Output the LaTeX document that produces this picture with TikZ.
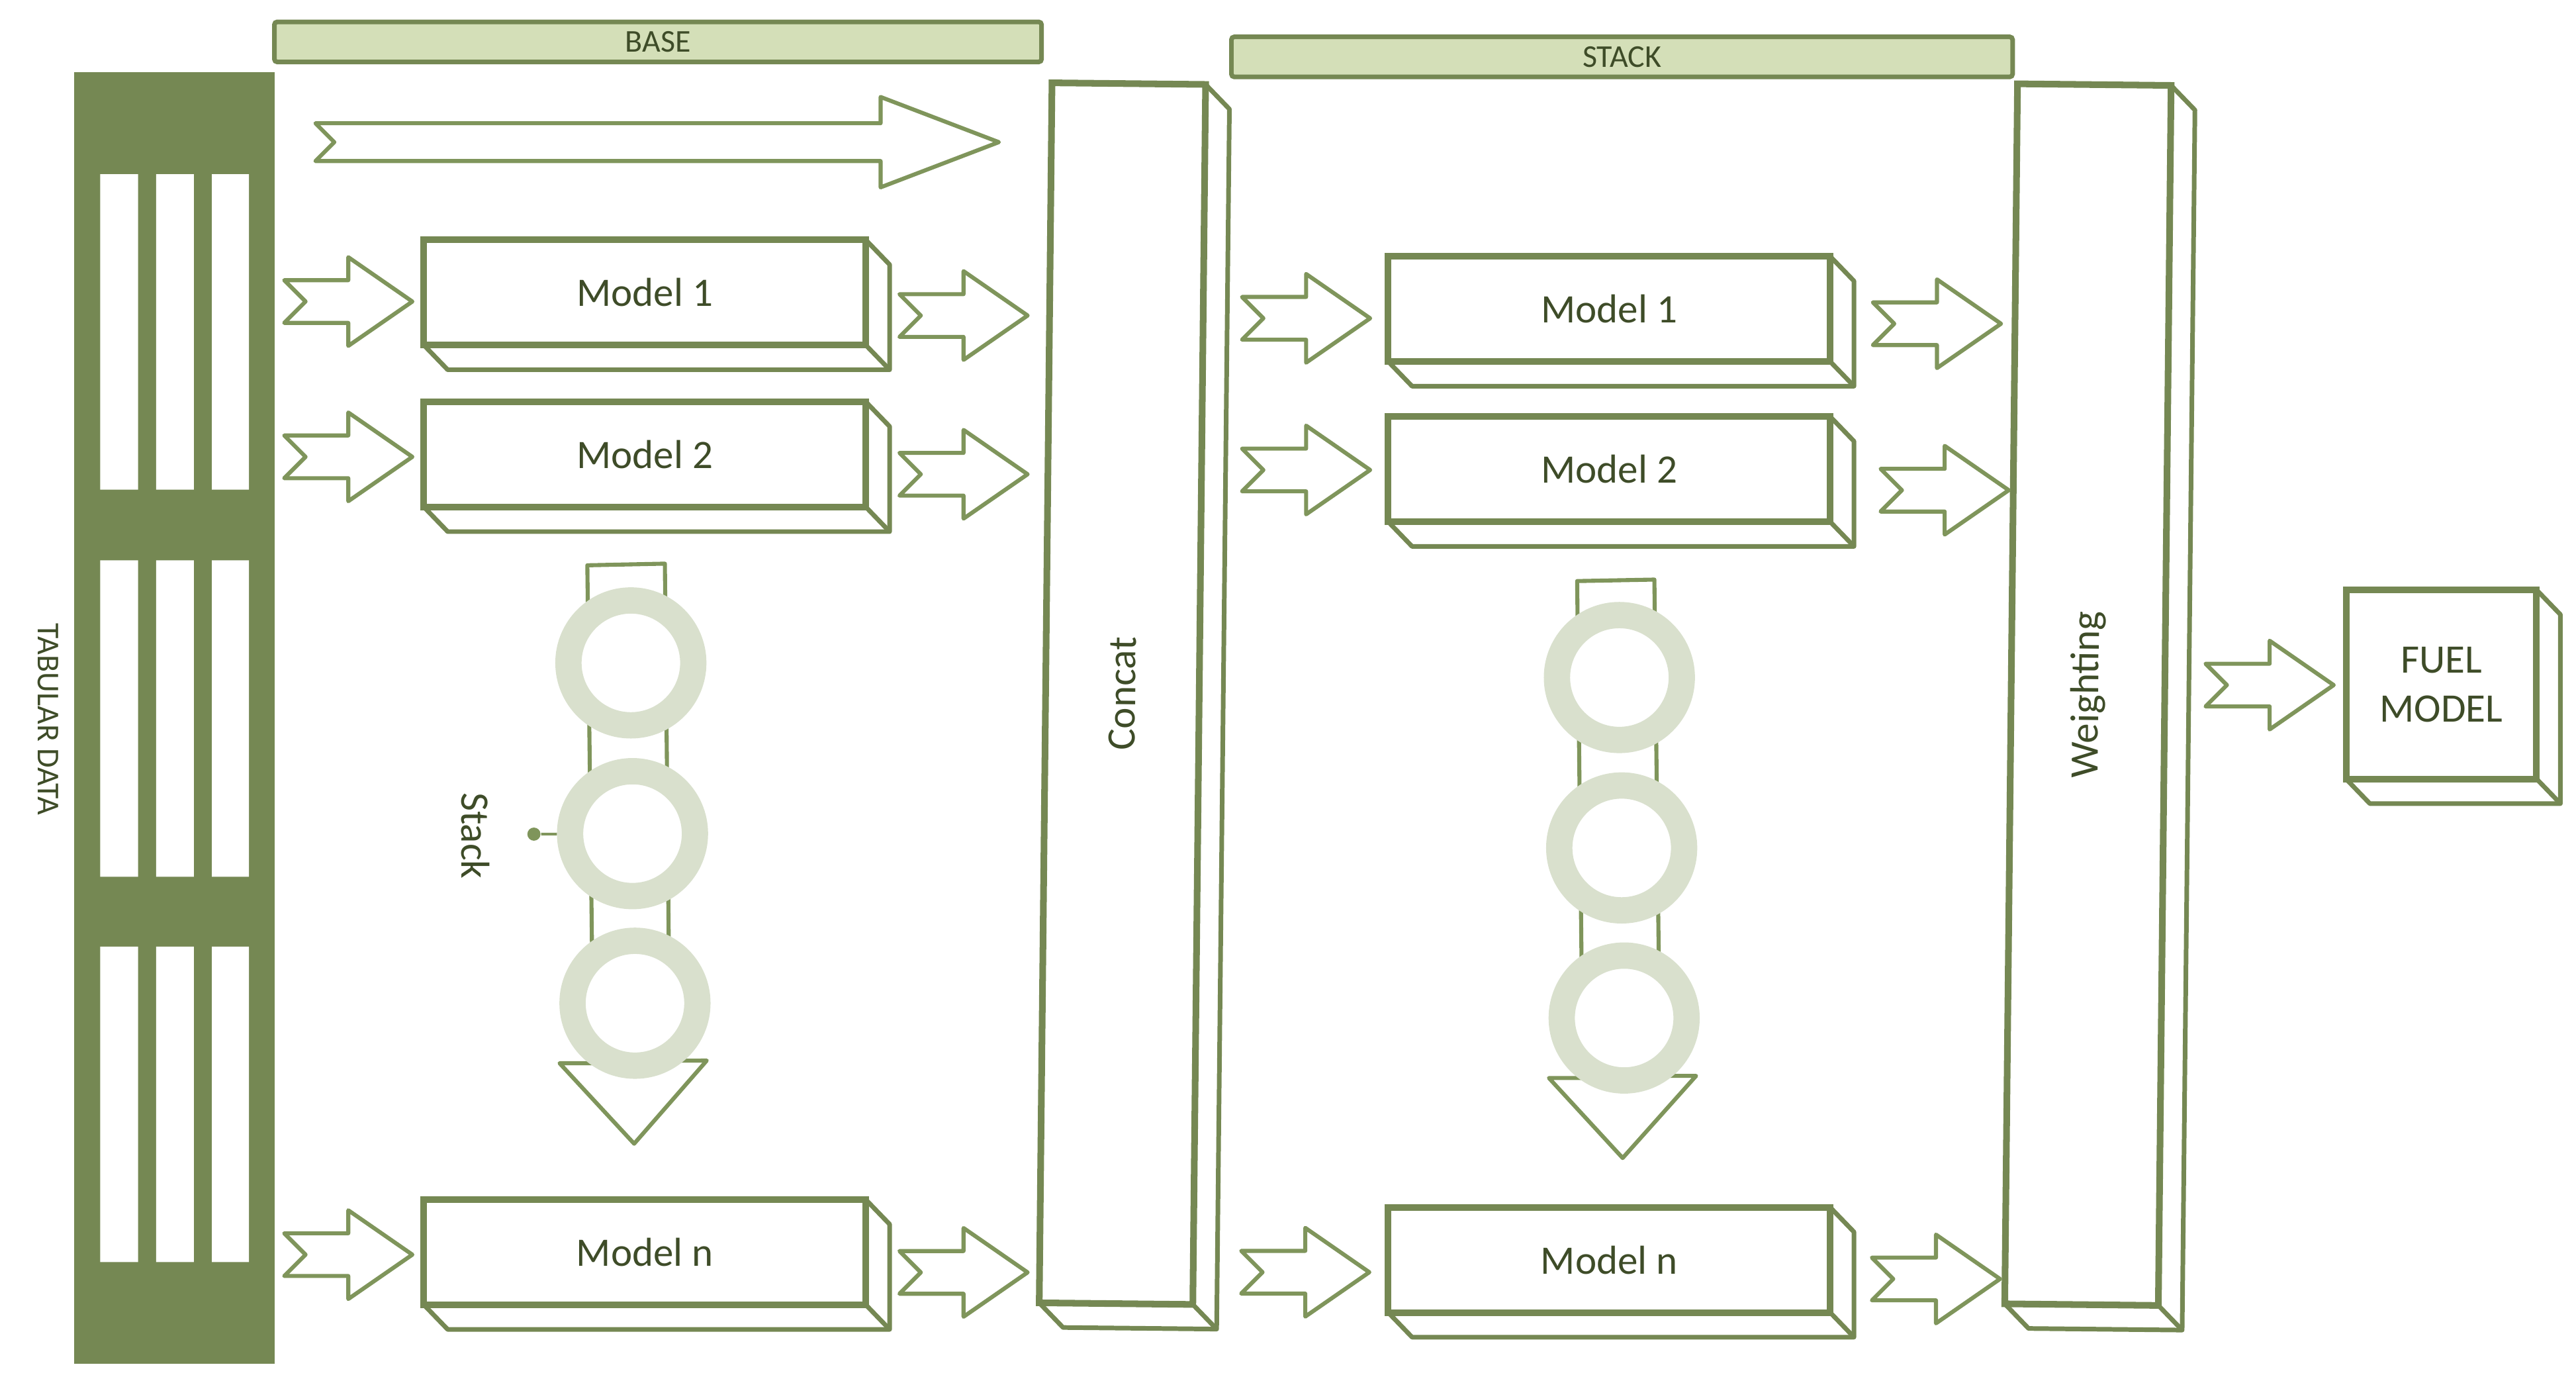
\documentclass[tikz,border=0pt]{standalone}
\usepackage{fontspec}
\setmainfont{Carlito}
\usepackage{tikz}
\usetikzlibrary{calc}

\definecolor{olive}{RGB}{117,136,83}
\definecolor{olivelight}{RGB}{127,149,91}
\definecolor{bannerfill}{RGB}{212,223,184}
\definecolor{ringfill}{RGB}{217,224,205}
\definecolor{textgreen}{RGB}{62,76,40}

\tikzstyle{banner} = [rectangle, rounded corners=1pt, minimum height=4.8mm, draw=olive, line width=1.6pt, fill=bannerfill, text=textgreen, font=\fontsize{11}{13}\selectfont]
\tikzstyle{model} = [rectangle, minimum width=53.8mm, minimum height=12.8mm, outer sep=0pt, draw=olive, line width=2.3pt, text=textgreen, font=\fontsize{14}{17}\selectfont]
\tikzstyle{column} = [rectangle, minimum width=18.7mm, minimum height=148.5mm, outer sep=0pt, draw=olive, line width=2.3pt, rotate=-0.6, text=textgreen, font=\fontsize{14}{17}\selectfont]
\tikzstyle{side} = [draw=olive, line width=1.6pt, line join=round]
\tikzstyle{arrowline} = [draw=olivelight, line width=1.4pt, line join=round]
\tikzstyle{ring} = [circle, minimum size=15.2mm, inner sep=0pt, draw=ringfill, line width=3.2mm, fill=white]
\tikzstyle{caption} = [text=textgreen, font=\fontsize{11}{13}\selectfont]

\tikzset{
  fatarrow/.pic={
    \draw[arrowline] (0,-13) -- (39,-13) -- (39,-27) -- (78,0) -- (39,27) -- (39,13) -- (0,13) -- (13,0) -- cycle;
  }
}

% back faces of a box
\newcommand{\boxdepth}[1]{%
  \draw[side] (#1.north east) -- ++(14.5,15) -- ([shift={(14.5,15)}]#1.south east) -- ([shift={(14.5,15)}]#1.south west) -- (#1.south west);
  \draw[side] (#1.south east) -- ++(14.5,15);
}

\begin{document}
\begin{tikzpicture}[x=0.2mm, y=-0.2mm]
    \useasboundingbox (0,0) rectangle (1568,839);

    % tabular data
    \node (data) [rectangle, fill=olive, minimum width=24.4mm, minimum height=157.2mm, inner sep=0pt] at (106,437) {};
    \fill[white] (61,106) rectangle (84,298) (95,106) rectangle (118,298) (129,106) rectangle (151.5,298)
                 (61,341) rectangle (84,533.5) (95,341) rectangle (118,533.5) (129,341) rectangle (151.5,533.5)
                 (61,576) rectangle (84,768) (95,576) rectangle (118,768) (129,576) rectangle (151.5,768);
    \node (datalabel) [caption, rotate=-90] at (29.4,437.7) {TABULAR DATA};

    \node (base) [banner, minimum width=93.4mm] at (400.5,25.5) {BASE};
    \node (stack) [banner, minimum width=95.1mm] at (987.3,34.6) {STACK};

    \node (bm1) [model] at (392.5,178) {Model 1};
    \node (bm2) [model] at (392.5,276.5) {Model 2};
    \node (bmn) [model] at (392.5,762) {Model n};
    \node (sm1) [model] at (979.5,188) {Model 1};
    \node (sm2) [model] at (979.5,285.5) {Model 2};
    \node (smn) [model] at (979.5,766.7) {Model n};
    \node (concat) [column] at (683.2,422.1) {\rotatebox{90}{Concat}};
    \node (weight) [column] at (1270.9,422.7) {\rotatebox{90}{Weighting}};
    \node (fuel) [model, minimum width=23.2mm, minimum height=23mm, align=center] at (1486,416.5) {FUEL\\MODEL};

    \boxdepth{bm1}
    \boxdepth{bm2}
    \boxdepth{bmn}
    \boxdepth{sm1}
    \boxdepth{sm2}
    \boxdepth{smn}
    \boxdepth{concat}
    \boxdepth{weight}
    \boxdepth{fuel}

    % long arrow over the base models
    \draw[arrowline] (192,75) -- (536,75) -- (536,59) -- (608,86.5) -- (536,114) -- (536,98) -- (192,98) -- (203.5,86.5) -- cycle;

    \pic at (173,183.5) {fatarrow};
    \pic at (173,278) {fatarrow};
    \pic at (173,763.5) {fatarrow};
    \pic at (547.5,192) {fatarrow};
    \pic at (547.5,288.6) {fatarrow};
    \pic at (547.5,774.3) {fatarrow};
    \pic at (756,193.7) {fatarrow};
    \pic at (756,286) {fatarrow};
    \pic at (755.5,774.2) {fatarrow};
    \pic at (1140,197) {fatarrow};
    \pic at (1144.7,298.3) {fatarrow};
    \pic at (1139.4,778.3) {fatarrow};
    \pic at (1342.5,416.9) {fatarrow};

    % stack of models, base
    \draw[arrowline] (357.5,344) -- (404.7,343) -- (407.8,645.5) -- (430.2,645.4) -- (386,696) -- (340.6,647) -- (361.2,647) -- cycle;
    \node (br1) [ring] at (384,403.4) {};
    \node (br2) [ring] at (385,507.3) {};
    \node (br3) [ring] at (386.5,610.5) {};
    \node (dot) [circle, fill=olivelight, minimum size=1.6mm, inner sep=0pt] at (325,507.6) {};
    \draw[olivelight, line width=0.9pt] (dot) -- (br2);
    \node (stacklabel) [text=textgreen, font=\fontsize{14}{17}\selectfont, rotate=-90] at (289.4,508.6) {Stack};

    % stack of models, stack
    \draw[arrowline] (960,353.6) -- (1007,352.7) -- (1010.5,654.7) -- (1032.4,654.7) -- (987.7,704.7) -- (942.8,656) -- (963.5,656) -- cycle;
    \node (sr1) [ring] at (985.7,412.3) {};
    \node (sr2) [ring] at (987.1,516) {};
    \node (sr3) [ring] at (988.6,619.5) {};
\end{tikzpicture}
\end{document}
